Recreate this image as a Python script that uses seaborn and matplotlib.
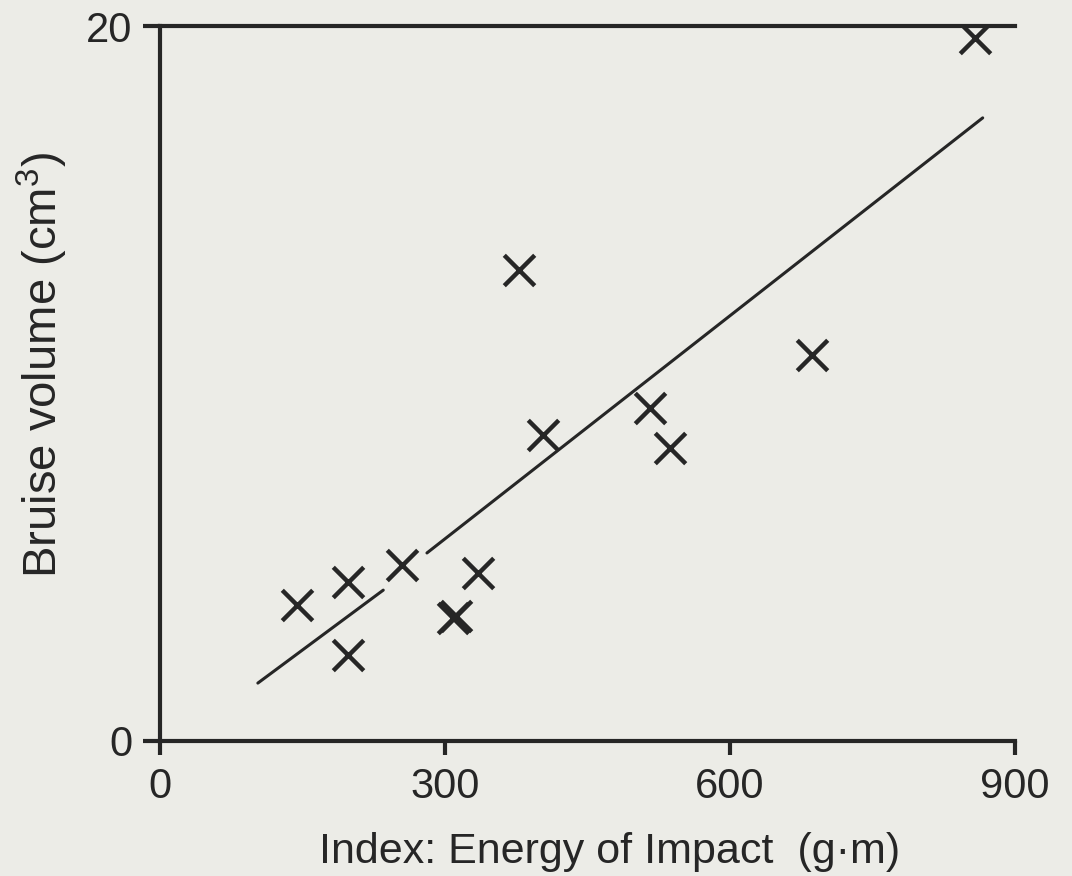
import matplotlib
matplotlib.use("Agg")
import matplotlib.pyplot as plt
import numpy as np
import pandas as pd
import seaborn as sns

# data
energy = [144, 198, 198, 255, 308, 312, 335, 378, 403, 516, 537, 686, 858]
volume = [3.80, 4.45, 2.41, 4.92, 3.45, 3.50, 4.70, 13.17, 8.56, 9.31, 8.20, 10.80, 19.66]

# fitted line, drawn in two pieces (break in the printed line)
fit_x_a = [103, 235]
fit_y_a = [1.62, 4.22]
fit_x_b = [281, 866]
fit_y_b = [5.26, 17.43]

x_ticks = [0, 300, 600, 900]
y_ticks = [0, 20]

ink = "#262626"
paper = "#ecece7"

sns.set_style("ticks")
plt.rcParams['font.family'] = ['Liberation Sans', 'DejaVu Sans']
plt.rcParams['mathtext.fontset'] = 'custom'
plt.rcParams['mathtext.rm'] = 'Liberation Sans'
plt.rcParams['mathtext.it'] = 'Liberation Sans'

df = pd.DataFrame({"energy": energy, "volume": volume})

fig = plt.figure(figsize=(10.72, 8.76), dpi=100, facecolor=paper)
ax = fig.add_axes([160 / 1072, 135 / 876, 855 / 1072, 715 / 876])
ax.set_facecolor(paper)

sns.scatterplot(data=df, x="energy", y="volume", marker="x", s=480,
                color=ink, linewidth=3.2, ax=ax, zorder=3)
sns.lineplot(x=fit_x_a, y=fit_y_a, color=ink, linewidth=2.2, ax=ax)
sns.lineplot(x=fit_x_b, y=fit_y_b, color=ink, linewidth=2.2, ax=ax)

ax.set_xlim(0, 900)
ax.set_ylim(0, 20)
ax.set_xticks(x_ticks)
ax.set_yticks(y_ticks)
ax.set_xticklabels([str(v) for v in x_ticks])
ax.set_yticklabels([str(v) for v in y_ticks])

for side in ["left", "bottom", "top"]:
    ax.spines[side].set_linewidth(3.0)
    ax.spines[side].set_color(ink)
ax.spines["right"].set_visible(False)

ax.tick_params(axis="x", direction="out", length=10, width=3.0, pad=9,
               labelsize=30, colors=ink)
ax.tick_params(axis="y", direction="out", length=12, width=3.0, pad=8,
               labelsize=30, colors=ink)

ax.set_xlabel("Index: Energy of Impact  (g\u00b7m)", fontsize=31, color=ink)
ax.set_ylabel("Bruise volume (cm$^{3}$)", fontsize=34, color=ink)
ax.xaxis.set_label_coords(0.526, -0.127)
ax.yaxis.set_label_coords(-0.105, 0.526)

fig.savefig("out.png", dpi=100, facecolor=paper)
